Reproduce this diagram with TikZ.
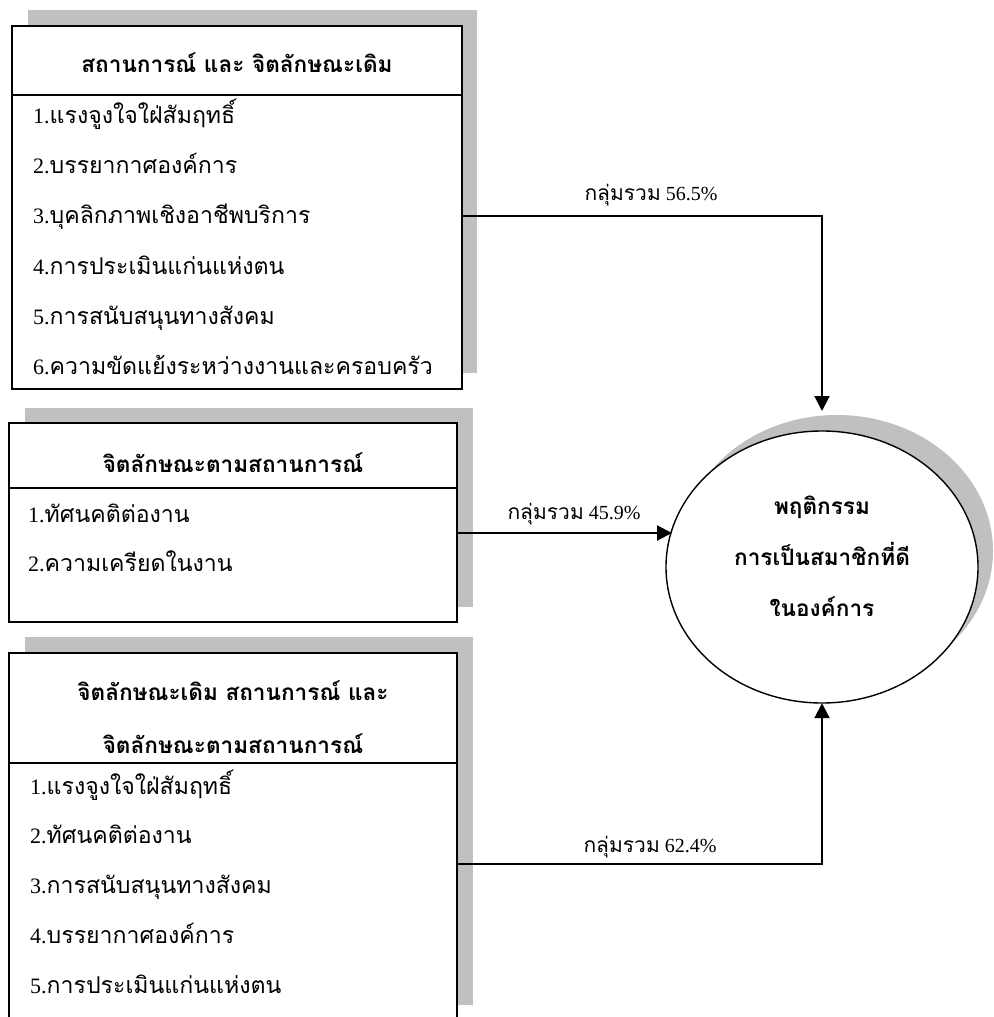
\documentclass[tikz,border=0pt]{standalone}
\usepackage{fontspec}
\setmainfont{Liberation Serif}
\newfontfamily\thaifont[Script=Thai,Scale=1.05]{Loma}
\newcommand\tx[1]{{\thaifont #1}}
\usetikzlibrary{arrows.meta}
\definecolor{shadowgray}{HTML}{C0C0C0}
\tikzset{
  shadowbox/.style={fill=shadowgray, draw=none},
  framebox/.style={draw=black, fill=white, line width=1.6pt},
  divider/.style={draw=black, line width=1.3pt},
  itemtxt/.style={anchor=base west, inner sep=0pt, font=\fontsize{22}{24}\selectfont},
  headtxt/.style={anchor=base, inner sep=0pt, font=\fontsize{21.5}{24}\selectfont\bfseries},
  pcttxt/.style={anchor=base, inner sep=0pt, font=\fontsize{20}{22}\selectfont},
  conn/.style={draw=black, line width=2pt, -{Triangle[width=15pt,length=15pt]}},
}
\begin{document}
\begin{tikzpicture}[x=1pt,y=-1pt]
\useasboundingbox (0,0) rectangle (993,1017);
\clip (0,0) rectangle (993,1017);

% ---- block 1: situational and dispositional factors
\fill[shadowbox] (28,10) rectangle (477,373);
\node[framebox, minimum width=450pt, minimum height=363pt, inner sep=0pt] (b1) at (237,207.5) {};
\draw[divider] (12,95) -- (462,95);
\node[headtxt] (b1h) at (237,72) {\tx{สถานการณ์ และ จิตลักษณะเดิม}};
\node[itemtxt] (b1i1) at (33,123) {1.\tx{แรงจูงใจใฝ่สัมฤทธิ์}};
\node[itemtxt] (b1i2) at (33,173) {2.\tx{บรรยากาศองค์การ}};
\node[itemtxt] (b1i3) at (33,223) {3.\tx{บุคลิกภาพเชิงอาชีพบริการ}};
\node[itemtxt] (b1i4) at (33,274) {4.\tx{การประเมินแก่นแห่งตน}};
\node[itemtxt] (b1i5) at (33,324) {5.\tx{การสนับสนุนทางสังคม}};
\node[itemtxt] (b1i6) at (33,374) {6.\tx{ความขัดแย้งระหว่างงานและครอบครัว}};

% ---- block 2: state factors
\fill[shadowbox] (25,408) rectangle (473,607);
\node[framebox, minimum width=448pt, minimum height=199pt, inner sep=0pt] (b2) at (233,522.5) {};
\draw[divider] (9,488) -- (457,488);
\node[headtxt] (b2h) at (233,472) {\tx{จิตลักษณะตามสถานการณ์}};
\node[itemtxt] (b2i1) at (28,522) {1.\tx{ทัศนคติต่องาน}};
\node[itemtxt] (b2i2) at (28,571) {2.\tx{ความเครียดในงาน}};

% ---- block 3: combined factors
\fill[shadowbox] (25,637) rectangle (473,1005);
\node[framebox, minimum width=448pt, minimum height=387pt, inner sep=0pt] (b3) at (233,846.5) {};
\draw[divider] (9,763) -- (457,763);
\node[headtxt] (b3h1) at (233,700) {\tx{จิตลักษณะเดิม สถานการณ์ และ}};
\node[headtxt] (b3h2) at (233,753) {\tx{จิตลักษณะตามสถานการณ์}};
\node[itemtxt] (b3i1) at (30,794) {1.\tx{แรงจูงใจใฝ่สัมฤทธิ์}};
\node[itemtxt] (b3i2) at (30,843) {2.\tx{ทัศนคติต่องาน}};
\node[itemtxt] (b3i3) at (30,893) {3.\tx{การสนับสนุนทางสังคม}};
\node[itemtxt] (b3i4) at (30,943) {4.\tx{บรรยากาศองค์การ}};
\node[itemtxt] (b3i5) at (30,993) {5.\tx{การประเมินแก่นแห่งตน}};

% ---- outcome ellipse with offset shadow
\fill[shadowgray] (837,551) ellipse [x radius=156pt, y radius=136pt];
\draw[fill=white, line width=1.4pt] (822,567) ellipse [x radius=156pt, y radius=136pt];
\node[inner sep=0pt, minimum width=312pt, minimum height=272pt] (ell) at (822,567) {};
\node[headtxt] (e1) at (822,514) {\tx{พฤติกรรม}};
\node[headtxt] (e2) at (822,565) {\tx{การเป็นสมาชิกที่ดี}};
\node[headtxt] (e3) at (822,616) {\tx{ในองค์การ}};

% ---- connectors
\coordinate (c1) at (462,216);
\coordinate (t1) at (822,411);
\coordinate (c2) at (457,533);
\coordinate (t2) at (672,533);
\coordinate (c3) at (457,864);
\draw[conn] (c1) -| (t1);
\draw[conn] (c2) -- (t2);
\draw[conn] (c3) -| (ell.south);

\node[pcttxt] (p1) at (651,200) {\tx{กลุ่มรวม} 56.5\%};
\node[pcttxt] (p2) at (574,519) {\tx{กลุ่มรวม} 45.9\%};
\node[pcttxt] (p3) at (650,852) {\tx{กลุ่มรวม} 62.4\%};
\end{tikzpicture}
\end{document}
